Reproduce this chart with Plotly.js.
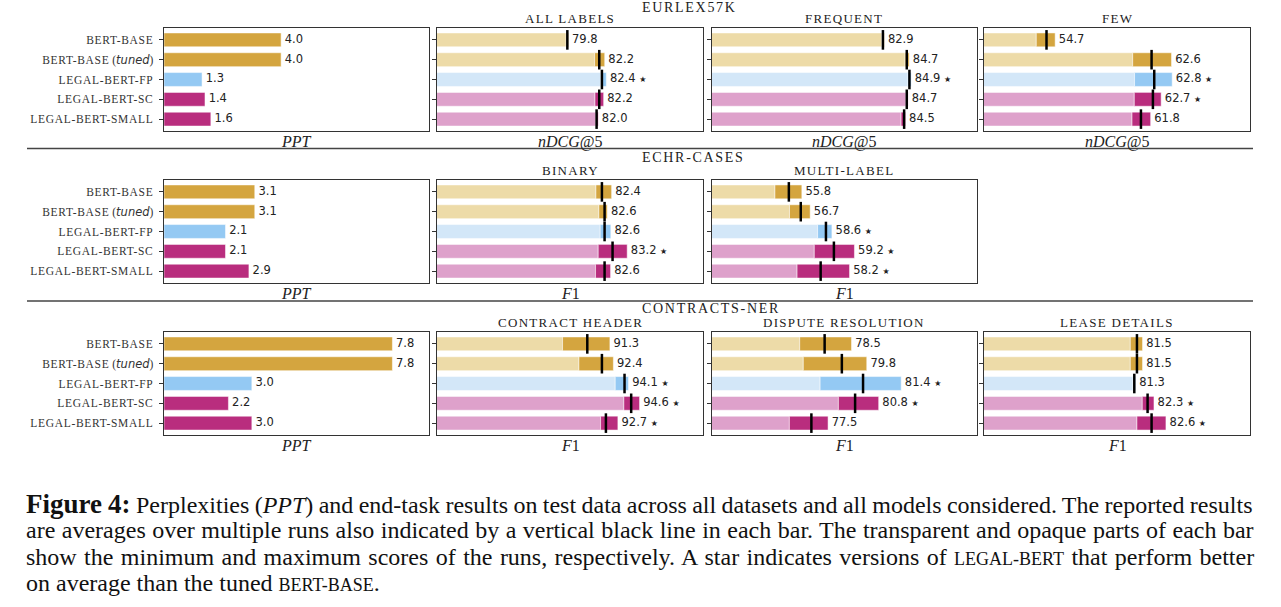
<!DOCTYPE html>
<html><head><meta charset="utf-8">
<script src="https://cdn.plot.ly/plotly-3.0.1.min.js"></script>
<style>body{margin:0;background:#fff}</style>
</head><body><div id="chart" style="width:1281px;height:607px"></div>
<script>
// ---------------- DATA ----------------
const models = ["BERT-BASE", "BERT-BASE (tuned)", "LEGAL-BERT-FP", "LEGAL-BERT-SC", "LEGAL-BERT-SMALL"];

// Perplexities
const pptEurlex = [4.0, 4.0, 1.3, 1.4, 1.6];
const pptEchr = [3.1, 3.1, 2.1, 2.1, 2.9];
const pptContracts = [7.8, 7.8, 3.0, 2.2, 3.0];

// EURLEX57K - ALL LABELS (nDCG@5)
const allMean = [79.8, 82.2, 82.4, 82.2, 82.0];
const allMin = [79.72, 81.85, 82.30, 81.88, 81.92];
const allMax = [79.88, 82.61, 82.73, 82.53, 82.12];
const allStar = [0, 0, 1, 0, 0];
// EURLEX57K - FREQUENT
const freqMean = [82.9, 84.7, 84.9, 84.7, 84.5];
const freqMin = [82.82, 84.58, 84.77, 84.65, 84.27];
const freqMax = [83.00, 84.88, 85.03, 84.80, 84.60];
const freqStar = [0, 0, 1, 0, 0];
// EURLEX57K - FEW
const fewMean = [54.7, 62.6, 62.8, 62.7, 61.8];
const fewMin = [53.93, 61.18, 61.32, 61.30, 61.13];
const fewMax = [55.35, 64.10, 64.15, 63.32, 62.53];
const fewStar = [0, 0, 1, 1, 0];
// ECHR-CASES - BINARY (F1)
const binMean = [82.4, 82.6, 82.6, 83.2, 82.6];
const binMin = [81.95, 82.17, 82.27, 82.12, 81.92];
const binMax = [83.13, 82.80, 83.07, 84.30, 83.05];
const binStar = [0, 0, 0, 1, 0];
// ECHR-CASES - MULTI-LABEL
const mlMean = [55.8, 56.7, 58.6, 59.2, 58.2];
const mlMin = [54.75, 55.85, 57.97, 57.72, 56.42];
const mlMax = [56.78, 57.41, 59.05, 60.75, 60.38];
const mlStar = [0, 0, 1, 1, 1];
// CONTRACTS-NER - CONTRACT HEADER
const chMean = [91.3, 92.4, 94.1, 94.6, 92.7];
const chMin = [89.44, 90.67, 93.40, 94.05, 92.30];
const chMax = [93.00, 93.26, 94.40, 95.23, 93.60];
const chStar = [0, 0, 1, 1, 1];
// CONTRACTS-NER - DISPUTE RESOLUTION
const drMean = [78.5, 79.8, 81.4, 80.8, 77.5];
const drMin = [76.62, 76.89, 78.16, 79.54, 75.84];
const drMax = [80.53, 81.68, 84.28, 82.58, 78.76];
const drStar = [0, 0, 1, 1, 0];
// CONTRACTS-NER - LEASE DETAILS
const ldMean = [81.5, 81.5, 81.3, 82.3, 82.6];
const ldMin = [81.00, 81.00, 81.20, 81.90, 81.50];
const ldMax = [81.92, 81.92, 81.40, 82.78, 83.68];
const ldStar = [0, 0, 0, 1, 1];

// ---------------- STYLE ----------------
const darkCol = ['#D4A53F', '#D4A53F', '#94C9F3', '#B92D7E', '#B92D7E'];
const lightCol = ['#EDDBA8', '#EDDBA8', '#D3E7F8', '#DEA1CB', '#DEA1CB'];
const W = 1281, H = 607;
const colPx = [[164, 429], [437, 703], [712, 977], [984, 1250]];
const rowPx = [[28, 131], [180, 283], [332, 435]];
const serif = "'Liberation Serif', 'Times New Roman', serif";
const sans = "'DejaVu Sans', sans-serif";

const panels = [
  {r: 0, c: 0, ppt: pptEurlex, range: [0, 9.05], xt: '<i>PPT</i>'},
  {r: 0, c: 1, mean: allMean, min: allMin, max: allMax, star: allStar, range: [70, 90], sub: 'ALL LABELS', xt: '<i>nDCG</i>@5'},
  {r: 0, c: 2, mean: freqMean, min: freqMin, max: freqMax, star: freqStar, range: [70, 90], sub: 'FREQUENT', xt: '<i>nDCG</i>@5'},
  {r: 0, c: 3, mean: fewMean, min: fewMin, max: fewMax, star: fewStar, range: [50, 70], sub: 'FEW', xt: '<i>nDCG</i>@5'},
  {r: 1, c: 0, ppt: pptEchr, range: [0, 9.05], xt: '<i>PPT</i>'},
  {r: 1, c: 1, mean: binMean, min: binMin, max: binMax, star: binStar, range: [70, 90], sub: 'BINARY', xt: '<i>F</i>1'},
  {r: 1, c: 2, mean: mlMean, min: mlMin, max: mlMax, star: mlStar, range: [50, 70], sub: 'MULTI-LABEL', xt: '<i>F</i>1'},
  {r: 2, c: 0, ppt: pptContracts, range: [0, 9.05], xt: '<i>PPT</i>'},
  {r: 2, c: 1, mean: chMean, min: chMin, max: chMax, star: chStar, range: [80, 100], sub: 'CONTRACT HEADER', xt: '<i>F</i>1'},
  {r: 2, c: 2, mean: drMean, min: drMin, max: drMax, star: drStar, range: [70, 90], sub: 'DISPUTE RESOLUTION', xt: '<i>F</i>1'},
  {r: 2, c: 3, mean: ldMean, min: ldMin, max: ldMax, star: ldStar, range: [70, 90], sub: 'LEASE DETAILS', xt: '<i>F</i>1'}
];
const datasetTitles = [
  {text: 'EURLEX57K', y: 7},
  {text: 'ECHR-CASES', y: 157},
  {text: 'CONTRACTS-NER', y: 308.5}
];
const subY = [18.5, 170.5, 322.5];
const xtY = [141.5, 293, 445];

const yIdx = [0, 1, 2, 3, 4];
function fmtModel(m) {
  if (m.indexOf('(tuned)') >= 0) {
    return "<span style=\"letter-spacing:0.7px\">BERT-BASE</span> (<span style=\"font-family:'DejaVu Sans'\"><i>tuned</i></span>)";
  }
  return '<span style="letter-spacing:0.7px">' + m + '</span>';
}
const nb = '\u00A0';
function fmtVal(v, s) {
  return nb + v.toFixed(1) + (s ? nb + '<span style="font-size:8px">\u2605</span>' : '');
}

const traces = [];
const layout = {
  width: W, height: H,
  margin: {l: 0, r: 0, t: 0, b: 0},
  paper_bgcolor: '#fff', plot_bgcolor: '#fff',
  showlegend: false,
  barmode: 'overlay',
  font: {family: serif, color: '#222'},
  annotations: [], shapes: []
};

panels.forEach((p, i) => {
  const k = i + 1;
  const xa = 'x' + (k === 1 ? '' : k), ya = 'y' + (k === 1 ? '' : k);
  const xName = 'xaxis' + (k === 1 ? '' : k), yName = 'yaxis' + (k === 1 ? '' : k);
  const cx = colPx[p.c], ry = rowPx[p.r];
  layout[xName] = {
    domain: [cx[0] / W, cx[1] / W], anchor: ya, range: p.range,
    showgrid: false, zeroline: false, showticklabels: false, ticks: '',
    showline: true, mirror: true, linecolor: '#333', linewidth: 1.3, fixedrange: true
  };
  layout[yName] = {
    domain: [1 - ry[1] / H, 1 - ry[0] / H], anchor: xa, range: [4.6, -0.6],
    tickmode: 'array', tickvals: yIdx, ticktext: models.map(fmtModel),
    showticklabels: p.c === 0, ticks: 'outside', ticklen: 4, tickwidth: 1, tickcolor: '#333',
    ticklabelstandoff: 3,
    tickfont: {family: serif, size: 11.5, color: '#333'},
    showgrid: false, zeroline: false, showline: true, mirror: true, linecolor: '#333', linewidth: 1.3,
    fixedrange: true
  };
  if (p.ppt) {
    traces.push({type: 'bar', orientation: 'h', x: p.ppt, y: yIdx, xaxis: xa, yaxis: ya, width: 0.7,
      marker: {color: darkCol, line: {color: 'rgba(255,255,255,0.5)', width: 1}}, hoverinfo: 'skip'});
    traces.push({type: 'scatter', mode: 'text', x: p.ppt, y: yIdx, xaxis: xa, yaxis: ya,
      text: p.ppt.map(v => fmtVal(v, 0)), textposition: 'middle right', cliponaxis: false,
      textfont: {family: sans, size: 11.5, color: '#222'}, hoverinfo: 'skip'});
  } else {
    traces.push({type: 'bar', orientation: 'h', x: p.min, y: yIdx, xaxis: xa, yaxis: ya, width: 0.7,
      marker: {color: lightCol, line: {color: 'rgba(255,255,255,0.5)', width: 1}}, hoverinfo: 'skip'});
    traces.push({type: 'bar', orientation: 'h', x: p.max.map((v, j) => v - p.min[j]), base: p.min, y: yIdx,
      xaxis: xa, yaxis: ya, width: 0.7,
      marker: {color: darkCol, line: {color: 'rgba(255,255,255,0.5)', width: 1}}, hoverinfo: 'skip'});
    traces.push({type: 'scatter', mode: 'markers', x: p.mean, y: yIdx, xaxis: xa, yaxis: ya,
      marker: {symbol: 'line-ns', size: 14, color: '#000', line: {color: '#000', width: 2.5}}, hoverinfo: 'skip'});
    traces.push({type: 'scatter', mode: 'text', x: p.max, y: yIdx, xaxis: xa, yaxis: ya,
      text: p.mean.map((v, j) => fmtVal(v, p.star[j])), textposition: 'middle right',
      cliponaxis: false, textfont: {family: sans, size: 11.5, color: '#222'}, hoverinfo: 'skip'});
  }
  if (p.sub) {
    layout.annotations.push({xref: 'paper', yref: 'paper', x: (cx[0] + cx[1]) / 2 / W, y: 1 - subY[p.r] / H,
      xanchor: 'center', yanchor: 'middle', showarrow: false,
      text: '<span style="letter-spacing:1.3px">' + p.sub + '</span>', font: {family: serif, size: 13, color: '#222'}});
  }
  layout.annotations.push({xref: 'paper', yref: 'paper', x: (cx[0] + cx[1]) / 2 / W, y: 1 - xtY[p.r] / H,
    xanchor: 'center', yanchor: 'middle', showarrow: false, text: p.xt,
    font: {family: serif, size: 16, color: '#222'}});
});

datasetTitles.forEach(t => {
  layout.annotations.push({xref: 'paper', yref: 'paper', x: 639.5 / W, y: 1 - t.y / H,
    xanchor: 'left', yanchor: 'middle', showarrow: false,
    text: '<span style="letter-spacing:1.7px">' + t.text + '</span>', font: {family: serif, size: 14, color: '#222'}});
});

[148.5, 301].forEach(py => {
  layout.shapes.push({type: 'line', xref: 'paper', yref: 'paper', x0: 27 / W, x1: 1253 / W,
    y0: 1 - py / H, y1: 1 - py / H, line: {color: '#444', width: 1.6}});
});

const captionLines = [
  '<span style="font-size:27px"><b>Figure 4:</b></span> Perplexities (<i>PPT</i>) and end-task results on test data across all datasets and all models considered. The reported results',
  'are averages over multiple runs also indicated by a vertical black line in each bar. The transparent and opaque parts of each bar',
  'show the minimum and maximum scores of the runs, respectively. A star indicates versions of <span style="font-size:18px">LEGAL-BERT</span> that perform better',
  'on average than the tuned <span style="font-size:18px">BERT-BASE</span>.'
];
const capSpacing = [-0.63, 0.48, 1.41, 0];
const capY = [503.5, 530, 557, 582.5];
captionLines.forEach((t, i) => {
  layout.annotations.push({xref: 'paper', yref: 'paper', x: 24 / W, y: 1 - capY[i] / H,
    xanchor: 'left', yanchor: 'middle', showarrow: false,
    text: '<span style="word-spacing:' + capSpacing[i] + 'px">' + t + '</span>',
    font: {family: serif, size: 24, color: '#111'}});
});

Plotly.newPlot('chart', traces, layout, {displayModeBar: false, staticPlot: true});
</script></body></html>
